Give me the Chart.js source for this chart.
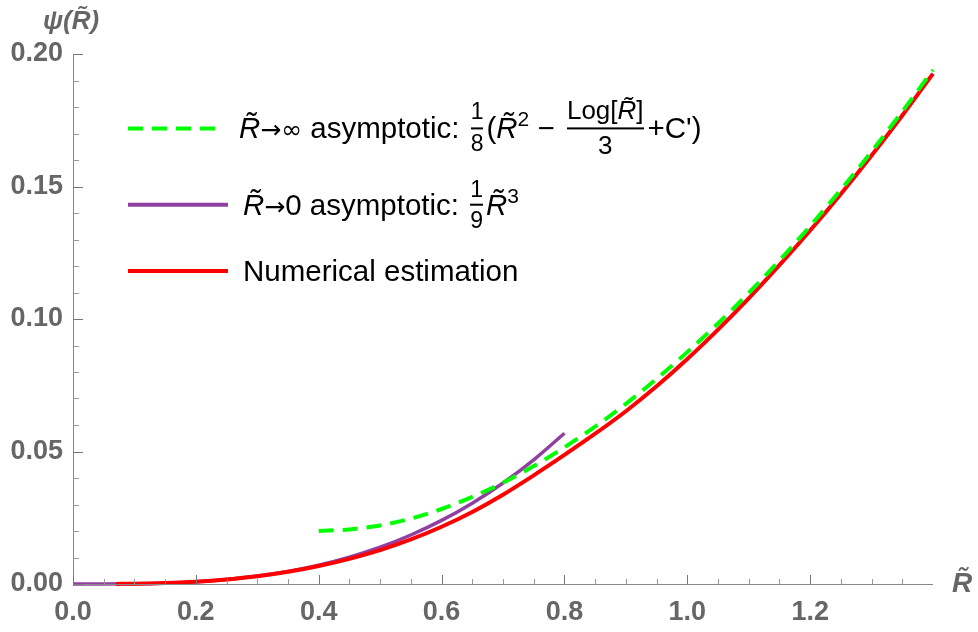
<!DOCTYPE html>
<html>
<head>
<meta charset="utf-8">
<script src="https://cdn.jsdelivr.net/npm/chart.js@4.4.1/dist/chart.umd.min.js"></script>
<style>
    html, body { margin: 0; padding: 0; background: #fff; }
    #wrap { position: relative; width: 978px; height: 632px; }
    canvas { position: absolute; left: 0; top: 0; }
    .axis-title { position: absolute; color: #666; font-family: 'Liberation Sans', Arial, sans-serif; font-weight: bold; font-style: italic; white-space: nowrap; }
    .row { position: absolute; left: 128px; display: flex; align-items: center; transform: translateY(-50%);
           font-family: 'Liberation Sans', Arial, sans-serif; font-size: 29.5px; color: #000; white-space: nowrap; }
    .row svg { margin-right: 15px; }
    .frac { display: inline-flex; flex-direction: column; align-items: center; font-size: 23px; line-height: 1.1; margin: 0 3px; }
    .frac.big { font-size: 26px; margin: 0 4px; }
    .frac .bar { align-self: stretch; height: 2px; background: #000; margin: 2px 0; }
    .arr { font-family: 'DejaVu Sans', sans-serif; font-size: 25px; }
    sup { font-size: 21px; vertical-align: 0; position: relative; top: -12px; }
</style>
</head>
<body>
<div id="wrap">
    <canvas id="chart" width="978" height="632"></canvas>
    <div class="axis-title" style="left:43px; top:5px; font-size:26px;">ψ(R&#771;)</div>
    <div class="axis-title" style="left:952px; top:567px; font-size:28px;">R&#771;</div>

    <div class="row" style="top:128px;">
        <svg width="96" height="8"><line x1="0" y1="4" x2="96" y2="4" stroke="#00ff00" stroke-width="4" stroke-dasharray="15 9"/></svg>
        <span><i>R&#771;</i><span class="arr">→∞</span> asymptotic:&nbsp;</span>
        <span class="frac"><span>1</span><span class="bar"></span><span>8</span></span>
        <span>(<i>R&#771;</i><sup>2</sup>&nbsp;−&nbsp;</span>
        <span class="frac big"><span>Log[<i>R&#771;</i>]</span><span class="bar"></span><span>3</span></span>
        <span>+C')</span>
    </div>
    <div class="row" style="top:205px;">
        <svg width="100" height="8"><line x1="0" y1="4" x2="100" y2="4" stroke="#9040a0" stroke-width="4"/></svg>
        <span><i>R&#771;</i><span class="arr">→</span>0 asymptotic:&nbsp;</span>
        <span class="frac"><span>1</span><span class="bar"></span><span>9</span></span>
        <span><i>R&#771;</i><sup>3</sup></span>
    </div>
    <div class="row" style="top:271px;">
        <svg width="100" height="8"><line x1="0" y1="4" x2="100" y2="4" stroke="#ff0000" stroke-width="4"/></svg>
        <span>Numerical estimation</span>
    </div>
</div>

<script>
// ---------------------------------------------------------------------------
// data
// ---------------------------------------------------------------------------

// R -> infinity asymptotic (green, dashed)
const greenR = [0.4, 0.45, 0.5, 0.55, 0.6, 0.65, 0.7, 0.75, 0.8, 0.85, 0.9, 0.95,
                1.0, 1.05, 1.1, 1.15, 1.2, 1.25, 1.3, 1.35, 1.4];
const greenPsi = [0.0200, 0.0206, 0.0221, 0.0247, 0.0283, 0.0329, 0.0382, 0.0445, 0.0516, 0.0594, 0.0680, 0.0774,
                  0.0875, 0.0983, 0.1098, 0.1221, 0.1351, 0.1488, 0.1632, 0.1783, 0.1940];

// R -> 0 asymptotic (purple)
const purpleR = [0, 0.05, 0.1, 0.15, 0.2, 0.25, 0.3, 0.35, 0.4, 0.45, 0.5, 0.55, 0.6, 0.65, 0.7, 0.75, 0.8];
const purplePsi = [0, 0.00001, 0.00011, 0.00038, 0.00089, 0.00174, 0.0030, 0.00476, 0.00711, 0.01013,
                   0.01389, 0.01849, 0.0240, 0.03051, 0.03811, 0.04688, 0.05689];

// numerical estimation (red)
const redR = [0.07, 0.1, 0.15, 0.2, 0.25, 0.3, 0.35, 0.4, 0.45, 0.5, 0.55, 0.6, 0.65, 0.7, 0.75, 0.8,
              0.85, 0.9, 0.95, 1.0, 1.05, 1.1, 1.15, 1.2, 1.25, 1.3, 1.35, 1.4];
const redPsi = [0.00003, 0.0001, 0.00037, 0.00087, 0.0017, 0.0029, 0.0046, 0.0068, 0.0095, 0.0128, 0.0168, 0.0216,
                0.0272, 0.0337, 0.0410, 0.0487, 0.0567, 0.0652, 0.0746, 0.0849, 0.0960, 0.1078, 0.1203, 0.1334,
                0.1472, 0.1617, 0.1768, 0.1926];

// ticks
const xMajor = [0, 0.2, 0.4, 0.6, 0.8, 1.0, 1.2];
const xMinor = [0.05, 0.1, 0.15, 0.25, 0.3, 0.35, 0.45, 0.5, 0.55, 0.65, 0.7, 0.75, 0.85, 0.9, 0.95,
                1.05, 1.1, 1.15, 1.25, 1.3, 1.35];
const yMajor = [0, 0.05, 0.1, 0.15, 0.2];
const yMinor = [0.01, 0.02, 0.03, 0.04, 0.06, 0.07, 0.08, 0.09, 0.11, 0.12, 0.13, 0.14,
                0.16, 0.17, 0.18, 0.19];

const toPoints = (xs, ys) => xs.map((x, i) => ({ x: x, y: ys[i] }));

// axes + inward tick marks, Mathematica style
const axesPlugin = {
    id: 'axes',
    afterDatasetsDraw(chart) {
        const { ctx, chartArea: a, scales: { x, y } } = chart;
        ctx.save();
        ctx.lineWidth = 1;
        ctx.strokeStyle = '#888';
        ctx.beginPath();
        ctx.moveTo(a.left, a.bottom + 0.5);
        ctx.lineTo(a.right, a.bottom + 0.5);
        ctx.moveTo(a.left + 0.5, a.bottom);
        ctx.lineTo(a.left + 0.5, a.top);
        ctx.stroke();

        const tick = (px, len, horiz) => {
            ctx.beginPath();
            if (horiz) {
                ctx.moveTo(Math.round(px) + 0.5, a.bottom);
                ctx.lineTo(Math.round(px) + 0.5, a.bottom - len);
            } else {
                ctx.moveTo(a.left, Math.round(px) + 0.5);
                ctx.lineTo(a.left + len, Math.round(px) + 0.5);
            }
            ctx.stroke();
        };
        ctx.strokeStyle = '#777';
        xMajor.forEach(v => tick(x.getPixelForValue(v), 9, true));
        yMajor.forEach(v => tick(y.getPixelForValue(v), 10, false));
        ctx.strokeStyle = '#999';
        xMinor.forEach(v => tick(x.getPixelForValue(v), 5, true));
        yMinor.forEach(v => tick(y.getPixelForValue(v), 6, false));
        ctx.restore();
    }
};

const tickFont = { family: "'Liberation Sans', Arial, sans-serif", size: 27, weight: 'bold' };

new Chart(document.getElementById('chart'), {
    type: 'line',
    data: {
        datasets: [
            {
                label: 'R -> inf asymptotic',
                data: toPoints(greenR, greenPsi),
                borderColor: '#00ff00',
                borderWidth: 4,
                borderDash: [15, 9],
                order: 0
            },
            {
                label: 'Numerical estimation',
                data: toPoints(redR, redPsi),
                borderColor: '#ff0000',
                borderWidth: 4,
                order: 1
            },
            {
                label: 'R -> 0 asymptotic',
                data: toPoints(purpleR, purplePsi),
                borderColor: '#9040a0',
                borderWidth: 3.5,
                order: 2
            }
        ]
    },
    options: {
        responsive: false,
        animation: false,
        clip: false,
        cubicInterpolationMode: 'monotone',
        elements: { point: { radius: 0 } },
        layout: { padding: { top: 54, right: 45, left: 0, bottom: 0 } },
        plugins: {
            legend: { display: false },
            tooltip: { enabled: false }
        },
        scales: {
            x: {
                type: 'linear',
                min: 0,
                max: 1.4,
                border: { display: false },
                grid: { display: false, drawTicks: false },
                afterBuildTicks: s => { s.ticks = xMajor.map(v => ({ value: v })); },
                afterFit: s => { s.height = 48; },
                ticks: {
                    autoSkip: false,
                    maxRotation: 0,
                    padding: 12,
                    color: '#666',
                    font: tickFont,
                    callback: v => v.toFixed(1)
                }
            },
            y: {
                type: 'linear',
                min: 0,
                max: 0.2,
                border: { display: false },
                grid: { display: false, drawTicks: false },
                afterBuildTicks: s => { s.ticks = yMajor.map(v => ({ value: v })); },
                afterFit: s => { s.width = 73; },
                ticks: {
                    autoSkip: false,
                    padding: 10,
                    color: '#666',
                    font: tickFont,
                    callback: v => v.toFixed(2)
                }
            }
        }
    },
    plugins: [axesPlugin]
});
</script>
</body>
</html>
